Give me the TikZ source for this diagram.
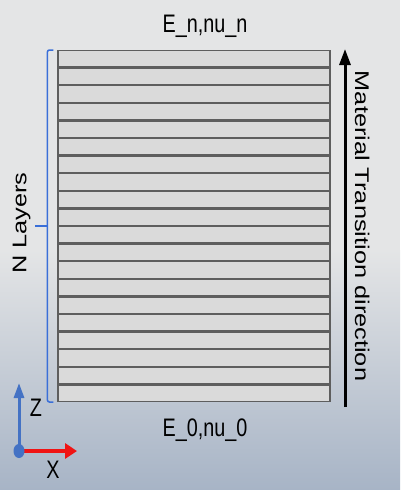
\documentclass[tikz,border=0pt]{standalone}
\usepackage{fontspec}
\setmainfont{Liberation Sans}
\usepackage{xcolor}
\usetikzlibrary{arrows.meta}

\definecolor{bgtop}{HTML}{E4E5E6}
\definecolor{bgbot}{HTML}{A7B4C6}
\definecolor{layerfill}{HTML}{DADADA}
\definecolor{layeredge}{HTML}{5E5E5E}
\definecolor{braceblue}{HTML}{3A6FD8}
\definecolor{axisblue}{HTML}{4472C4}
\definecolor{axisred}{HTML}{F01414}

\begin{document}
\begin{tikzpicture}[x=1pt, y=-1pt,
    layer/.style={draw=layeredge, line width=1.2pt, fill=layerfill, minimum width=272pt,
                  minimum height=16.4pt, inner sep=0pt},
    lbl/.style={font=\fontsize{19.8}{22}\selectfont, inner sep=0pt, yscale=1.28},
    arrow/.style={-{Triangle[length=16pt, width=11pt]}, line width=3pt},
    zaxis/.style={-{Triangle[length=15pt, width=10pt]}, line width=3pt, axisblue},
    xaxis/.style={-{Triangle[length=12pt, width=15pt]}, line width=4pt, axisred},
    brace/.style={draw=braceblue, line width=1.5pt, rounded corners=2pt},
    dot/.style={circle, fill=axisblue, minimum size=11pt, inner sep=0pt, yscale=1.28}
]

% background
\useasboundingbox (0,0) rectangle (400,490);
\fill[bgtop] (0,0) rectangle (400,250);
\shade[top color=bgtop, bottom color=bgbot] (0,250) rectangle (400,490);

% stack of layers, L0 at the bottom
\foreach \i in {0,...,19}
  \node[layer] (L\i) at (194, 402-17.6*\i-8.8) {};

\node[lbl, anchor=base] (topLbl) at (205,32) {E\_n,nu\_n};
\node[lbl, anchor=base] (botLbl) at (205,436) {E\_0,nu\_0};

% transition direction
\coordinate (mtBot) at (345,407);
\coordinate (mtTop) at (345,49);
\draw[arrow] (mtBot) -- (mtTop);
\node[lbl, rotate=-90, anchor=base] (mtLbl) at (355,226) {Material Transition direction};

% brace over all layers
\draw[brace] ([xshift=-4pt]L19.north west) -- ++(-6,0) |- ([xshift=-4pt]L0.south west);
\draw[brace] ([xshift=-10pt]L10.south west) -- ++(-12,0);
\node[lbl, rotate=90, anchor=base] (nLbl) at (26.5,223) {N Layers};

% axes
\coordinate (org) at (19,451);
\coordinate (zTip) at (19,383);
\coordinate (xTip) at (77,451);
\draw[zaxis] (org) -- (zTip);
\draw[xaxis] (org) -- (xTip);
\node[dot] (orgDot) at (org) {};
\node[lbl, anchor=base] (zLbl) at (36,416) {Z};
\node[lbl, anchor=base] (xLbl) at (53,478) {X};

\end{tikzpicture}
\end{document}
